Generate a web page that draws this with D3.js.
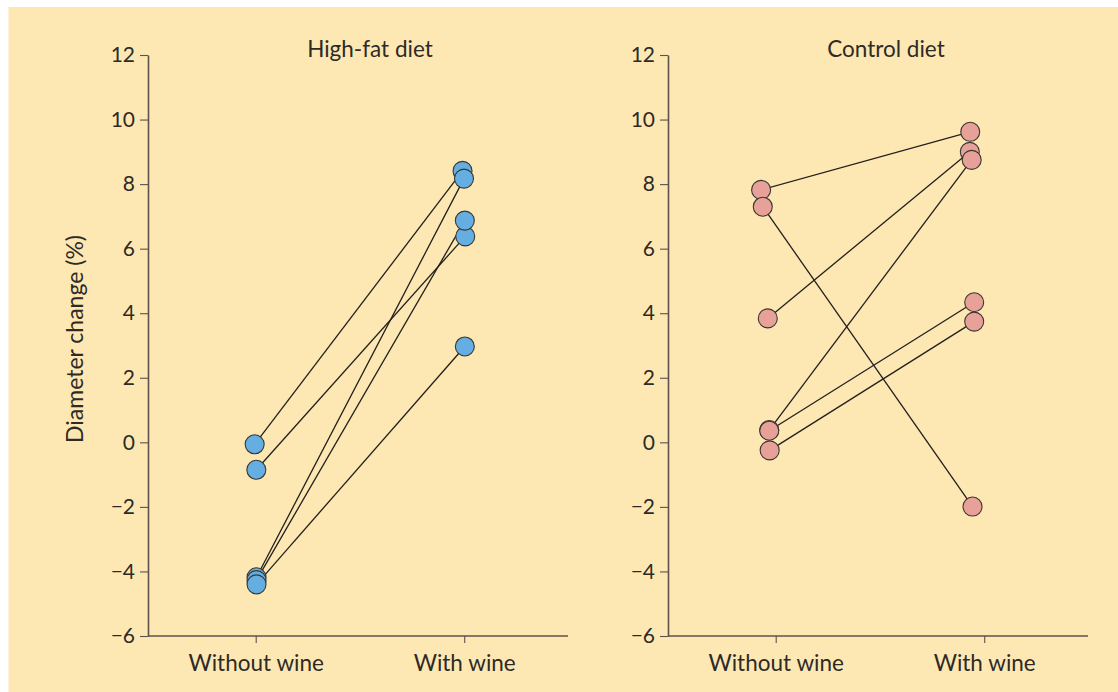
<!DOCTYPE html>
<html>
<head>
<meta charset="utf-8">
<script src="https://cdn.jsdelivr.net/npm/d3@7"></script>
<style>
  html, body { margin: 0; padding: 0; background: #ffffff; }
  svg { display: block; }
  text { font-family: Lato, "Open Sans", sans-serif; fill: #2e2a26; }
</style>
</head>
<body>
<svg id="chart" width="1118" height="692"></svg>
<script>
// ---- data ----
const categories = ["Without wine", "With wine"];
const yTicks = [-6, -4, -2, 0, 2, 4, 6, 8, 10, 12];
const yLabel = "Diameter change (%)";

const highFatTitle = "High-fat diet";
const highFatWithout = [-0.06, -0.85, -4.18, -4.27, -4.40];
const highFatWith    = [ 8.41,  6.38,  8.17,  6.87,  2.97];
const highFatJitterWithout = [-0.005, 0.003, 0.004, 0.004, 0.004];
const highFatJitterWith    = [-0.008, 0.005, -0.001, 0.003, 0.003];

const controlTitle = "Control diet";
const controlWithout = [7.82, 7.30, 3.84, 0.38, 0.36, -0.25];
const controlWith    = [9.62, -1.99, 9.00, 8.75, 4.34, 3.74];
const controlJitterWithout = [-0.070, -0.062, -0.038, -0.031, -0.031, -0.029];
const controlJitterWith    = [-0.067, -0.056, -0.069, -0.060, -0.048, -0.048];

// ---- layout ----
const svg = d3.select("#chart");
svg.append("rect").attr("x", 8.5).attr("y", 7).attr("width", 1118 - 8.5).attr("height", 692 - 7)
  .attr("fill", "#fde8b4");

const axisColor = "#5c5249";
const plotTop = 55, plotBottom = 636, axisLen = 420;
const y = d3.scaleLinear().domain([-6, 12]).range([plotBottom, plotTop]);

const panels = [
  { title: highFatTitle, titleDx: 12, x0: 148, without: highFatWithout, withV: highFatWith,
    jw: highFatJitterWithout, jv: highFatJitterWith, fill: "#64aee1", showYLabel: true },
  { title: controlTitle, titleDx: 8, x0: 668, without: controlWithout, withV: controlWith,
    jw: controlJitterWithout, jv: controlJitterWith, fill: "#e8a199", showYLabel: false }
];

panels.forEach(p => {
  const g = svg.append("g").attr("transform", `translate(${p.x0},0)`);
  const xc = d3.scaleLinear().domain([0, 1]).range([107.7, 316.2]);
  const xPoint = d3.scalePoint().domain(categories).range([107.7, 316.2]);

  // y axis
  const yAxis = d3.axisLeft(y).tickValues(yTicks).tickSize(8).tickSizeOuter(0).tickPadding(5);
  const ya = g.append("g").call(yAxis);
  ya.select(".domain").attr("stroke", axisColor).attr("stroke-width", 1.6);
  ya.selectAll(".tick line").attr("stroke", axisColor).attr("stroke-width", 1.1);
  ya.selectAll(".tick text").attr("font-size", 21).style("fill", "#2e2a26")
    .attr("font-family", "Lato, sans-serif");

  // x axis
  const xAxis = d3.axisBottom(xPoint).tickSize(7).tickSizeOuter(0).tickPadding(12);
  const xa = g.append("g").attr("transform", `translate(0,${plotBottom})`).call(xAxis);
  xa.select(".domain").remove();
  xa.append("line").attr("x1", 0).attr("x2", axisLen).attr("y1", 0).attr("y2", 0)
    .attr("stroke", axisColor).attr("stroke-width", 1.6);
  xa.selectAll(".tick line").attr("stroke", axisColor).attr("stroke-width", 1.1);
  xa.selectAll(".tick text").attr("font-size", 22.5).style("fill", "#2e2a26")
    .attr("font-family", "Lato, sans-serif");

  // title
  g.append("text").attr("x", axisLen / 2 + p.titleDx).attr("y", 57).attr("text-anchor", "middle")
    .attr("font-size", 22.5).text(p.title);

  const pairs = p.without.map((v, i) => ({
    a: v, b: p.withV[i], ja: p.jw[i], jb: p.jv[i]
  }));

  g.selectAll("line.pair").data(pairs).enter().append("line").attr("class", "pair")
    .attr("x1", d => xc(0 + d.ja)).attr("y1", d => y(d.a))
    .attr("x2", d => xc(1 + d.jb)).attr("y2", d => y(d.b))
    .attr("stroke", "#231f1c").attr("stroke-width", 1.3);

  const pts = [];
  pairs.forEach(d => { pts.push({ x: 0 + d.ja, v: d.a }); });
  pairs.forEach(d => { pts.push({ x: 1 + d.jb, v: d.b }); });
  g.selectAll("circle").data(pts).enter().append("circle")
    .attr("cx", d => xc(d.x)).attr("cy", d => y(d.v)).attr("r", 9.5)
    .attr("fill", p.fill).attr("stroke", "#3a3632").attr("stroke-width", 1.1);

  if (p.showYLabel) {
    g.append("text").attr("transform", `translate(${83 - p.x0},339) rotate(-90)`)
      .attr("text-anchor", "middle").attr("font-size", 23).text(yLabel);
  }
});
</script>
</body>
</html>
